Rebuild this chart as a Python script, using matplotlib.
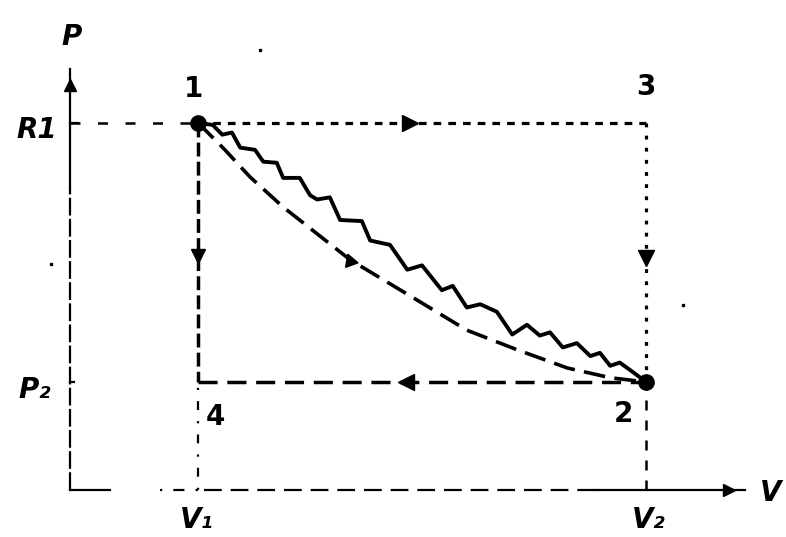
import matplotlib.pyplot as plt
import numpy as np

# state values (arbitrary diagram units)
V1, V2 = 2.0, 9.0
P1, P2 = 3.4, 1.0

# quasi-static path 1 -> 2 (dashed)
curve_V = [2.0, 2.42, 2.81, 3.33, 4.38, 5.42, 6.20, 6.98, 7.77, 8.44, 9.0]
curve_P = [3.4, 3.15, 2.90, 2.62, 2.13, 1.76, 1.48, 1.30, 1.13, 1.04, 1.0]

# irreversible zigzag path 1 -> 2
zig_V = [2.0, 2.23, 2.38, 2.53, 2.66, 2.89, 3.02, 3.23, 3.33, 3.59, 3.75, 3.86,
         4.06, 4.22, 4.56, 4.69, 5.00, 5.27, 5.50, 5.81, 5.98, 6.20, 6.41, 6.67,
         6.91, 7.14, 7.34, 7.50, 7.70, 7.92, 8.13, 8.28, 8.44, 8.59, 8.80, 9.0]
zig_P = [3.4, 3.38, 3.29, 3.31, 3.17, 3.15, 3.04, 3.03, 2.89, 2.89, 2.73, 2.69,
         2.71, 2.50, 2.49, 2.31, 2.27, 2.04, 2.08, 1.85, 1.89, 1.69, 1.72, 1.65,
         1.44, 1.53, 1.43, 1.46, 1.32, 1.36, 1.24, 1.27, 1.15, 1.18, 1.09, 1.0]

# specks from the scan
speck_V = [2.97, -0.3, 9.58]
speck_P = [4.07, 2.09, 1.71]

fig = plt.figure(figsize=(7.86, 5.37), dpi=100)
ax = fig.add_axes([0, 0, 1, 1])
ax.set_xlim(-1.094, 11.1875)
ax.set_ylim(-0.435, 4.537)
ax.axis('off')

k = 'black'

# axes
ax.plot([0, 0], [2.8, 3.9], color=k, lw=1.6)
ax.plot([0, 0], [0, 2.8], color=k, lw=1.6, dashes=(8, 1.5))
ax.plot([0, 0.62], [0, 0], color=k, lw=1.6)
ax.plot([1.4, 2.1], [0, 0], color=k, lw=1.6, dashes=(1, 5, 5, 5))
ax.plot([2.1, 8.2], [0, 0], color=k, lw=1.6, dashes=(8, 4))
ax.plot([8.2, 10.55], [0, 0], color=k, lw=1.6)
ax.plot([0], [3.75], marker='^', ms=8, color=k)
ax.plot([10.3], [0], marker='>', ms=9, color=k)

# ticks on P axis
ax.plot([0, 0.12], [P1, P1], color=k, lw=1.6)
ax.plot([0, 0.06], [P2, P2], color=k, lw=1.6)

# guide lines
ax.plot([0, V1], [P1, P1], color=k, lw=1.8, dashes=(4, 7))
ax.plot([V1, V2], [P1, P1], color=k, lw=2.3, dashes=(2.4, 2.2))
ax.plot([V2, V2], [P1, P2], color=k, lw=2.3, dashes=(1.2, 2.6))
ax.plot([V1, V1], [P1, P2], color=k, lw=2.5, dashes=(4, 1.5))
ax.plot([V1, V2], [P2, P2], color=k, lw=2.5, dashes=(5.5, 2.8))
ax.plot([V1, V1], [0, P2], color=k, lw=1.6, dashes=(1, 5, 4, 5))
ax.plot([V2, V2], [0, P2], color=k, lw=1.8, dashes=(4, 4))

# paths 1 -> 2
ax.plot(curve_V, curve_P, color=k, lw=2.6, dashes=(6, 2.6))
ax.plot(zig_V, zig_P, color=k, lw=2.8)

# direction arrows
ax.plot([5.31], [P1], marker='>', ms=11, color=k)
ax.plot([5.25], [P2], marker='<', ms=11, color=k)
ax.plot([V1], [2.17], marker='v', ms=10, color=k)
ax.plot([V2], [2.15], marker='v', ms=11, color=k)
ax.plot([4.38], [2.12], marker=(3, 0, 140), ms=11, color=k)

# state points
ax.plot([V1, V2], [P1, P2], 'o', ms=11, color=k)
ax.plot(speck_V, speck_P, 's', ms=2, color=k)

# labels
fs = dict(fontsize=20, fontweight='bold', color=k, ha='center', va='center')
ax.text(0.03, 4.19, 'P', style='italic', **fs)
ax.text(-0.52, 3.33, 'R1', style='italic', **fs)
ax.text(-0.55, 0.93, 'P₂', style='italic', **fs)
ax.text(1.93, 3.71, '1', **fs)
ax.text(9.0, 3.73, '3', **fs)
ax.text(2.27, 0.68, '4', **fs)
ax.text(8.64, 0.70, '2', **fs)
ax.text(1.98, -0.28, 'V₁', style='italic', **fs)
ax.text(9.04, -0.28, 'V₂', style='italic', **fs)
ax.text(10.95, -0.03, 'V', style='italic', **fs)

fig.savefig('out.png', dpi=100)
